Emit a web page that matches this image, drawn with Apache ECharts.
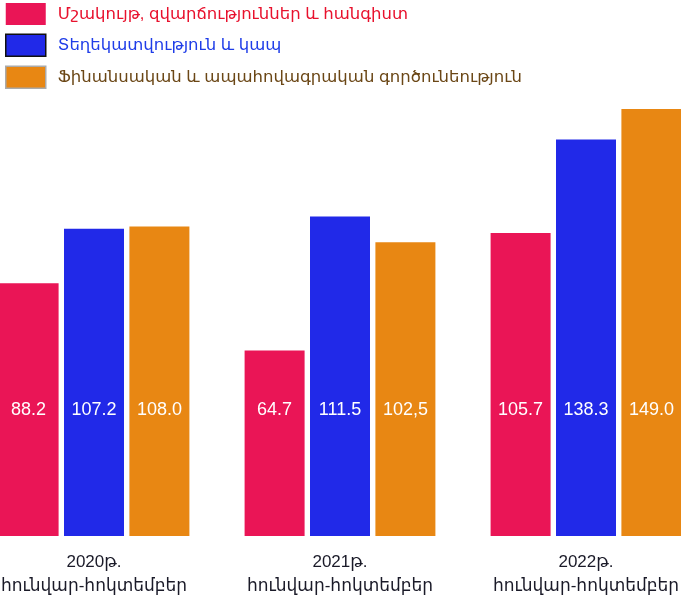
<!DOCTYPE html>
<html>
<head>
<meta charset="utf-8">
<script src="https://cdn.jsdelivr.net/npm/echarts@6/dist/echarts.min.js"></script>
<style>
  html, body { margin: 0; padding: 0; background: #fff; overflow: hidden; }
  /* plot runs past both edges of the window, like the reference */
  #chart { width: 738px; height: 598px; margin-left: -29px; }
</style>
</head>
<body>
<div id="chart"></div>
<script>
  var categories = ['2020թ.\nհունվար-հոկտեմբեր', '2021թ.\nհունվար-հոկտեմբեր', '2022թ.\nհունվար-հոկտեմբեր']
  var seriesNames = [
    'Մշակույթ, զվարճություններ և հանգիստ',
    'Տեղեկատվություն և կապ',
    'Ֆինանսական և ապահովագրական գործունեություն'
  ]
  var cultureValues = [88.2, 64.7, 105.7]
  var infoValues = [107.2, 111.5, 138.3]
  var financeValues = [108.0, 102.5, 149.0]
  var cultureLabels = ['88.2', '64.7', '105.7']
  var infoLabels = ['107.2', '111.5', '138.3']
  var financeLabels = ['108.0', '102,5', '149.0']

  var font = "'Liberation Sans', 'Noto Sans', 'DejaVu Sans', sans-serif"
  var colors = ['#ea1556', '#2129e8', '#e88713']

  function makeSeries(name, values, labels, color) {
    return {
      name: name,
      type: 'bar',
      barWidth: 60,
      barGap: '9%',
      data: values,
      itemStyle: { color: color },
      label: {
        show: true,
        position: 'insideBottom',
        distance: 117,
        color: '#ffffff',
        fontSize: 18,
        fontFamily: font,
        formatter: function (p) { return labels[p.dataIndex] }
      }
    }
  }

  var chart = echarts.init(document.getElementById('chart'))
  chart.setOption({
    animation: false,
    backgroundColor: '#ffffff',
    legend: {
      orient: 'vertical',
      left: 34,
      top: 3,
      padding: 0,
      itemWidth: 40,
      itemHeight: 22,
      itemGap: 8.5,
      icon: 'rect',
      textStyle: { fontSize: 16.5, fontFamily: font, padding: [0, 0, 0, 7] },
      data: [
        { name: seriesNames[0], textStyle: { color: '#e8112d' } },
        { name: seriesNames[1], textStyle: { color: '#1f3de8' },
          itemStyle: { borderColor: '#111', borderWidth: 1.5 } },
        { name: seriesNames[2], textStyle: { color: '#6b4716' },
          itemStyle: { borderColor: '#aaa', borderWidth: 1.5 } }
      ]
    },
    grid: { left: 0, right: 0, top: 0, bottom: 59 },
    xAxis: {
      type: 'category',
      data: categories,
      axisLine: { show: false },
      axisTick: { show: false },
      axisLabel: {
        margin: 14,
        color: '#1a1a28',
        fontSize: 17,
        lineHeight: 24,
        fontFamily: font,
        interval: 0
      }
    },
    yAxis: {
      type: 'value',
      min: 0,
      max: 187,
      show: false,
      splitLine: { show: false }
    },
    series: [
      makeSeries(seriesNames[0], cultureValues, cultureLabels, colors[0]),
      makeSeries(seriesNames[1], infoValues, infoLabels, colors[1]),
      makeSeries(seriesNames[2], financeValues, financeLabels, colors[2])
    ]
  })
</script>
</body>
</html>
